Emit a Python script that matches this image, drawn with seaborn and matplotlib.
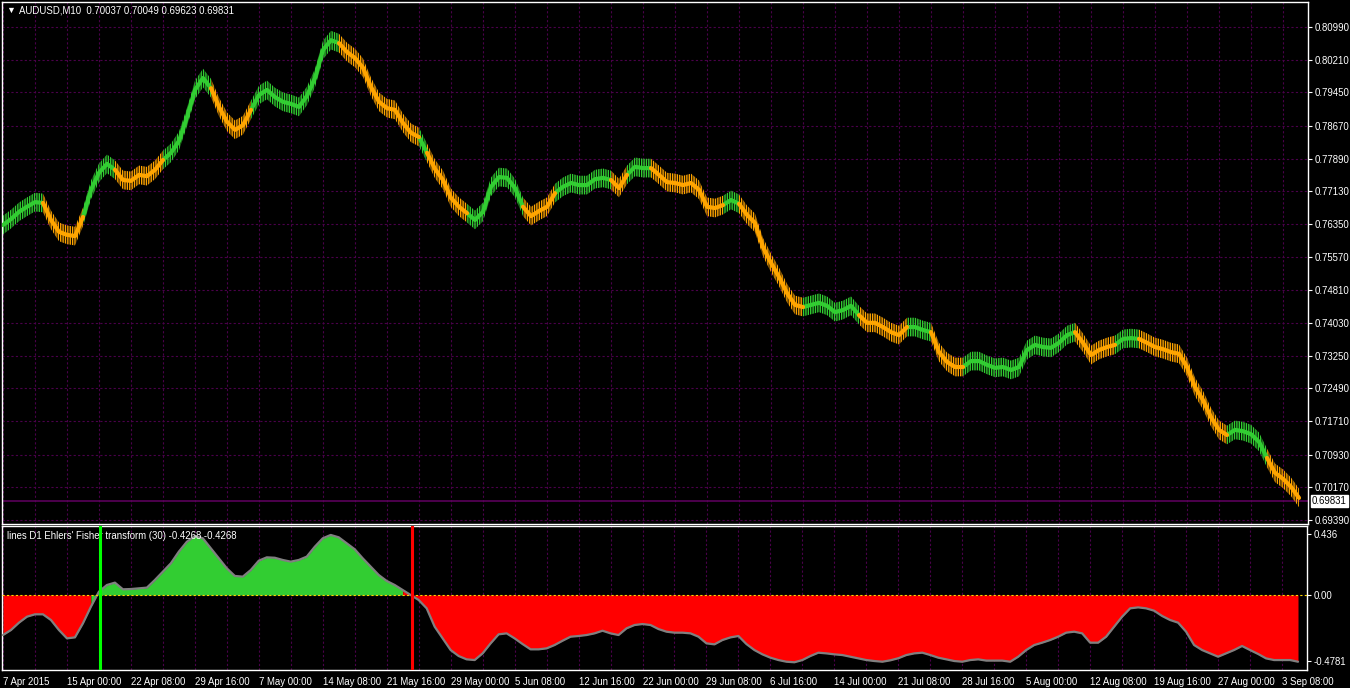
import matplotlib
matplotlib.use('Agg')
import matplotlib.pyplot as plt
import seaborn as sns
import pandas as pd

# --- 数据：每 8 像素读一个点 ---
price = [0.7633, 0.7647, 0.7664, 0.7676, 0.7687, 0.7685, 0.7645, 0.7617, 0.7610, 0.7607,
         0.7652, 0.7716, 0.7756, 0.7777, 0.7763, 0.7739, 0.7737, 0.7751, 0.7748, 0.7763,
         0.7786, 0.7803, 0.7831, 0.7887, 0.7951, 0.7979, 0.7955, 0.7911, 0.7876, 0.7857,
         0.7868, 0.7904, 0.7939, 0.7951, 0.7934, 0.7923, 0.7918, 0.7911, 0.7937, 0.7979,
         0.8045, 0.8068, 0.8061, 0.8040, 0.8026, 0.8003, 0.7958, 0.7923, 0.7908, 0.7904,
         0.7873, 0.7850, 0.7840, 0.7803, 0.7765,
         0.7739, 0.7697, 0.7676, 0.7661, 0.7645, 0.7664, 0.7723, 0.7746, 0.7744, 0.7720,
         0.7676, 0.7654, 0.7666, 0.7676, 0.7708, 0.7723, 0.7732, 0.7727, 0.7727, 0.7741,
         0.7744, 0.7739, 0.7720, 0.7751, 0.7770, 0.7767, 0.7767, 0.7751, 0.7734, 0.7732,
         0.7727, 0.7732, 0.7716, 0.7676, 0.7673, 0.7680, 0.7692, 0.7683, 0.7657, 0.7638,
         0.7581, 0.7544, 0.7511, 0.7473, 0.7445, 0.7440, 0.7445, 0.7450, 0.7443, 0.7428,
         0.7433, 0.7443, 0.7421,
         0.7403, 0.7403, 0.7393, 0.7381, 0.7374, 0.7393, 0.7393, 0.7386, 0.7381, 0.7334,
         0.7311, 0.7299, 0.7299, 0.7313, 0.7313, 0.7304, 0.7297, 0.7299, 0.7292, 0.7299,
         0.7339, 0.7351, 0.7346, 0.7344, 0.7356, 0.7374, 0.7381, 0.7356, 0.7327, 0.7339,
         0.7346, 0.7351, 0.7365, 0.7367, 0.7365, 0.7356, 0.7346, 0.7341, 0.7334, 0.7330,
         0.7299, 0.7252, 0.7221, 0.7181, 0.7151, 0.7139, 0.7151, 0.7148, 0.7141, 0.7123,
         0.7085, 0.7050, 0.7036, 0.7017, 0.6991]

# 颜色切换点 (绿色开始，之后交替橙/绿)
trend_breaks = [0, 5, 10, 14, 20, 26, 31, 42, 52, 53, 58, 65, 69, 76, 78, 81, 90, 92,
                100, 107, 113, 116, 120, 134, 139, 142, 153, 158]

fisher = [-0.288, -0.252, -0.199, -0.156, -0.139, -0.139, -0.180, -0.252, -0.312, -0.305,
          -0.204, -0.084, 0.024, 0.072, 0.089, 0.041, 0.043, 0.048, 0.053, 0.108,
          0.168, 0.228, 0.312, 0.383, 0.424, 0.408, 0.336, 0.264, 0.192, 0.137,
          0.132, 0.180, 0.247, 0.271, 0.268, 0.252, 0.240, 0.252, 0.276, 0.347,
          0.408, 0.432, 0.415, 0.372, 0.329, 0.264, 0.204, 0.144, 0.101, 0.072,
          0.036, 0.000, -0.036, -0.096, -0.228,
          -0.312, -0.396, -0.439, -0.463, -0.468, -0.420, -0.348, -0.283, -0.276, -0.312,
          -0.353, -0.391, -0.391, -0.384, -0.360, -0.329, -0.300, -0.295, -0.288, -0.276,
          -0.257, -0.276, -0.288, -0.240, -0.216, -0.209, -0.216, -0.245, -0.264, -0.271,
          -0.271, -0.276, -0.300, -0.348, -0.355, -0.324, -0.305, -0.295, -0.353, -0.396,
          -0.427, -0.451, -0.468, -0.480, -0.484, -0.468, -0.439, -0.415, -0.420, -0.427,
          -0.432, -0.444, -0.456, -0.468, -0.475, -0.480, -0.470, -0.455, -0.432, -0.420,
          -0.415, -0.432, -0.451, -0.463, -0.475, -0.480, -0.468, -0.463, -0.472, -0.472,
          -0.472, -0.480, -0.444, -0.396, -0.360, -0.343, -0.324, -0.300, -0.271, -0.264,
          -0.276, -0.343, -0.343, -0.300, -0.228, -0.156, -0.096, -0.089, -0.096, -0.113,
          -0.151, -0.180, -0.199, -0.264, -0.360, -0.396, -0.420, -0.444, -0.420, -0.396,
          -0.367, -0.396, -0.424, -0.456, -0.468, -0.468, -0.468, -0.480]

fisher_breaks = [0, 11, 50]
fisher_state = ['sell', 'buy', 'sell']
buy_signal = 12.1
sell_signal = 51.2

price_ticks = [0.80990, 0.80210, 0.79450, 0.78670, 0.77890, 0.77130, 0.76350, 0.75570,
               0.74810, 0.74030, 0.73250, 0.72490, 0.71710, 0.70930, 0.70170, 0.69390]
last_price = 0.69831
fisher_ticks = [0.436, 0.0, -0.4781]
fisher_tick_labels = ['0.436', '0.00', '-0.4781']
date_labels = ['7 Apr 2015', '15 Apr 00:00', '22 Apr 08:00', '29 Apr 16:00', '7 May 00:00',
               '14 May 08:00', '21 May 16:00', '29 May 00:00', '5 Jun 08:00', '12 Jun 16:00',
               '22 Jun 00:00', '29 Jun 08:00', '6 Jul 16:00', '14 Jul 00:00', '21 Jul 08:00',
               '28 Jul 16:00', '5 Aug 00:00', '12 Aug 08:00', '19 Aug 16:00', '27 Aug 00:00',
               '3 Sep 08:00']

# --- 样式 ---
sns.set_theme(style='dark')
plt.rcParams['font.family'] = ['Liberation Sans', 'DejaVu Sans']
plt.rcParams['hatch.linewidth'] = 1.0

UP, DOWN = '#32CD32', '#FFA500'
GRID = '#4a004a'
FS = 6.9
W, H = 1350, 688

n = len(price)
xs = list(range(n))

# 按趋势拆成线段，相邻段共用端点
bounds = trend_breaks + [n - 1]
rows = []
for k in range(len(trend_breaks)):
    a, b = bounds[k], bounds[k + 1]
    t = 'up' if k % 2 == 0 else 'down'
    for j in range(a, b + 1):
        rows.append((j, price[j], k, t))
seg_df = pd.DataFrame(rows, columns=['i', 'price', 'seg', 'trend'])

fig = plt.figure(figsize=(W / 100, H / 100), dpi=100, facecolor='black')
ax = fig.add_axes([2 / W, 1 - 524 / H, 1306 / W, 522 / H], facecolor='black')
ax2 = fig.add_axes([2 / W, 1 - 670 / H, 1305 / W, 144 / H], facecolor='black')

xlim = (-1 / 8, 1305 / 8)

# --- 主图 ---
band = 0.0022
for k in range(len(trend_breaks)):
    a, b = bounds[k], bounds[k + 1]
    col = UP if k % 2 == 0 else DOWN
    seg_x = xs[a:b + 1]
    seg_p = price[a:b + 1]
    ax.fill_between(seg_x, [p - band for p in seg_p], [p + band for p in seg_p],
                    facecolor='none', edgecolor=col, hatch='|' * 7, linewidth=0, zorder=2)

sns.lineplot(data=seg_df, x='i', y='price', hue='trend', units='seg', estimator=None,
             palette={'up': UP, 'down': DOWN}, linewidth=3.0, legend=False, sort=False,
             ax=ax, zorder=3)

ax.axhline(last_price, color='#5a005a', linewidth=1.2, zorder=1)

ax.set_xlim(*xlim)
ax.set_ylim(0.69390 - 4 / 4250, 0.80990 + 25 / 4250)
ax.set_xticks(range(0, n, 8))
ax.set_xticks(range(0, n, 4), minor=True)
ax.set_yticks(price_ticks)
ax.set_yticklabels([f'{t:.5f}' for t in price_ticks])
ax.yaxis.tick_right()
ax.tick_params(axis='y', colors='white', labelsize=FS, length=3, width=0.8, pad=2)
ax.tick_params(axis='x', which='both', length=0, labelbottom=False)
ax.grid(True, which='both', color=GRID, linestyle=(0, (2, 2)), linewidth=0.8)
ax.set_xlabel('')
ax.set_ylabel('')
for s in ax.spines.values():
    s.set_color('white')
    s.set_linewidth(1.0)

ax.text(0.003, 0.983, '▼', transform=ax.transAxes, color='white', fontsize=6.5,
        ha='left', va='center')
ax.text(0.013, 0.983, 'AUDUSD,M10  0.70037 0.70049 0.69623 0.69831', transform=ax.transAxes,
        color='white', fontsize=FS, ha='left', va='center')
ax.text(1.003, last_price, f'{last_price:.5f}', transform=ax.get_yaxis_transform(),
        color='black', fontsize=FS, ha='left', va='center',
        bbox=dict(facecolor='white', edgecolor='white', pad=0.8))

# --- 指标窗口 ---
fb = fisher_breaks + [n - 1]
for k, st in enumerate(fisher_state):
    a, b = fb[k], fb[k + 1]
    ax2.fill_between(xs[a:b + 1], 0, fisher[a:b + 1],
                     color=UP if st == 'buy' else '#FF0000', linewidth=0, zorder=2)

sns.lineplot(x=xs, y=fisher, color='#808080', linewidth=1.6, ax=ax2, zorder=3)
ax2.axhline(0, color='#FFD700', linestyle=(0, (2, 2)), linewidth=0.8, zorder=4)
ax2.axvline(buy_signal, color='#00FF00', linewidth=2.2, zorder=6)
ax2.axvline(sell_signal, color='#FF0000', linewidth=2.2, zorder=6)

ax2.text(0.004, 0.93, "lines D1 Ehlers' Fisher transform (30) -0.4268 -0.4268",
         transform=ax2.transAxes, color='white', fontsize=FS, ha='left', va='center', zorder=5)

ax2.set_xlim(*xlim)
ax2.set_ylim(-75 / 139, 69 / 139)
ax2.set_xticks(range(0, n, 8))
ax2.set_xticklabels(date_labels, ha='left')
ax2.set_xticks(range(0, n, 4), minor=True)
ax2.set_yticks(fisher_ticks)
ax2.set_yticklabels(fisher_tick_labels)
ax2.yaxis.tick_right()
ax2.tick_params(axis='y', colors='white', labelsize=FS, length=3, width=0.8, pad=2)
ax2.tick_params(axis='x', which='major', colors='white', labelsize=FS, length=3, width=0.8, pad=2)
ax2.tick_params(axis='x', which='minor', length=0)
ax2.grid(True, which='both', axis='x', color=GRID, linestyle=(0, (2, 2)), linewidth=0.8)
ax2.grid(False, axis='y')
ax2.set_xlabel('')
ax2.set_ylabel('')
for s in ax2.spines.values():
    s.set_color('white')
    s.set_linewidth(1.0)

fig.savefig('out.png', dpi=100, facecolor='black')
